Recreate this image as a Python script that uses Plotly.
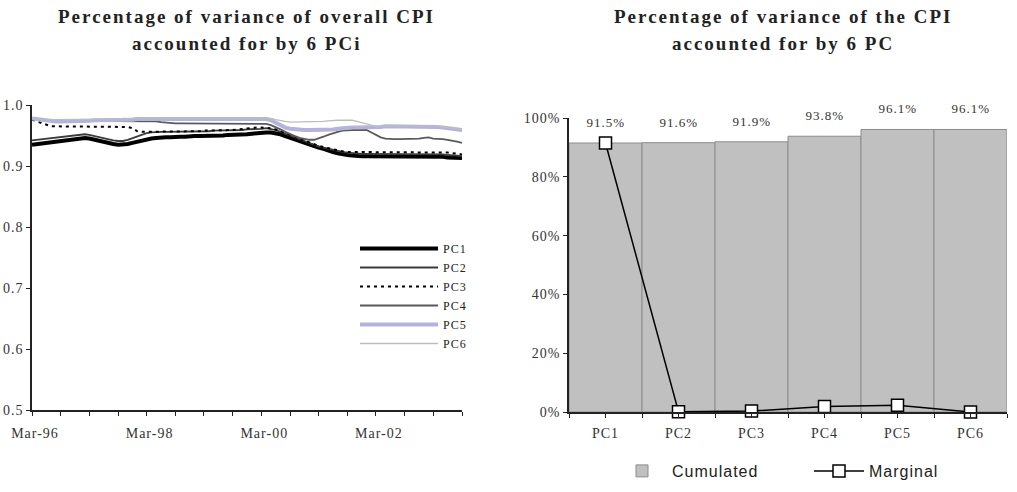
import pandas as pd
import plotly.graph_objects as go

# ---------------- data ----------------
months = pd.date_range("1996-03-01", periods=91, freq="MS")

pc1 = [0.935, 0.936, 0.937, 0.938, 0.940, 0.941, 0.942, 0.943, 0.944, 0.945, 0.946, 0.946,
       0.945, 0.943, 0.941, 0.939, 0.937, 0.936, 0.935, 0.935, 0.936, 0.938, 0.940, 0.942,
       0.944, 0.945, 0.946, 0.947, 0.947, 0.947, 0.948, 0.948, 0.948, 0.949, 0.949, 0.949,
       0.949, 0.950, 0.950, 0.950, 0.950, 0.951, 0.951, 0.951, 0.952, 0.952, 0.953, 0.954,
       0.954, 0.955, 0.955, 0.954, 0.952, 0.949, 0.946, 0.943, 0.940, 0.937, 0.935, 0.932,
       0.930, 0.928, 0.925, 0.923, 0.921, 0.919, 0.918, 0.917, 0.916, 0.916, 0.916, 0.916,
       0.916, 0.916, 0.916, 0.916, 0.916, 0.916, 0.916, 0.916, 0.916, 0.916, 0.916, 0.915,
       0.915, 0.915, 0.915, 0.914, 0.914, 0.913, 0.913]

pc2 = [0.942, 0.943, 0.944, 0.945, 0.946, 0.947, 0.948, 0.949, 0.950, 0.951, 0.952, 0.952,
       0.951, 0.949, 0.947, 0.945, 0.943, 0.942, 0.941, 0.941, 0.943, 0.946, 0.949, 0.952,
       0.954, 0.955, 0.956, 0.956, 0.956, 0.956, 0.957, 0.957, 0.957, 0.957, 0.957, 0.957,
       0.957, 0.957, 0.958, 0.958, 0.958, 0.958, 0.958, 0.959, 0.959, 0.960, 0.960, 0.961,
       0.961, 0.962, 0.961, 0.959, 0.956, 0.953, 0.950, 0.946, 0.943, 0.940, 0.937, 0.934,
       0.932, 0.930, 0.928, 0.926, 0.924, 0.923, 0.922, 0.921, 0.921, 0.920, 0.920, 0.920,
       0.920, 0.920, 0.920, 0.920, 0.920, 0.920, 0.920, 0.920, 0.920, 0.920, 0.920, 0.919,
       0.919, 0.919, 0.919, 0.918, 0.918, 0.917, 0.916]

pc3 = [0.976, 0.973, 0.970, 0.967, 0.965, 0.965, 0.965, 0.964, 0.965, 0.965, 0.965, 0.964,
       0.965, 0.965, 0.964, 0.965, 0.965, 0.965, 0.964, 0.965, 0.964, 0.962, 0.957, 0.956,
       0.956, 0.957, 0.957, 0.957, 0.957, 0.957, 0.957, 0.957, 0.957, 0.957, 0.957, 0.957,
       0.958, 0.958, 0.958, 0.958, 0.959, 0.959, 0.959, 0.960, 0.961, 0.962, 0.962, 0.963,
       0.963, 0.963, 0.962, 0.960, 0.957, 0.954, 0.950, 0.947, 0.944, 0.941, 0.938, 0.935,
       0.933, 0.931, 0.929, 0.927, 0.925, 0.924, 0.923, 0.923, 0.923, 0.923, 0.923, 0.923,
       0.923, 0.923, 0.923, 0.923, 0.923, 0.923, 0.923, 0.923, 0.923, 0.923, 0.923, 0.923,
       0.922, 0.922, 0.922, 0.922, 0.921, 0.920, 0.919]

pc4 = [0.977, 0.976, 0.975, 0.974, 0.974, 0.974, 0.974, 0.974, 0.974, 0.974, 0.974, 0.974,
       0.974, 0.974, 0.974, 0.974, 0.974, 0.974, 0.974, 0.974, 0.974, 0.974, 0.974, 0.974,
       0.974, 0.974, 0.973, 0.972, 0.971, 0.971, 0.970, 0.970, 0.970, 0.970, 0.970, 0.970,
       0.970, 0.970, 0.970, 0.970, 0.970, 0.970, 0.970, 0.970, 0.970, 0.970, 0.970, 0.970,
       0.970, 0.969, 0.967, 0.964, 0.960, 0.956, 0.952, 0.949, 0.946, 0.944, 0.943, 0.943,
       0.945, 0.948, 0.951, 0.954, 0.956, 0.958, 0.959, 0.959, 0.959, 0.959, 0.959, 0.955,
       0.951, 0.947, 0.945, 0.944, 0.944, 0.944, 0.944, 0.944, 0.944, 0.945, 0.946, 0.947,
       0.945, 0.945, 0.944, 0.943, 0.942, 0.940, 0.938]

pc5 = [0.978, 0.977, 0.975, 0.974, 0.973, 0.973, 0.973, 0.973, 0.973, 0.973, 0.974, 0.974,
       0.974, 0.975, 0.975, 0.975, 0.975, 0.975, 0.975, 0.975, 0.976, 0.976, 0.977, 0.977,
       0.977, 0.977, 0.977, 0.977, 0.977, 0.977, 0.977, 0.977, 0.977, 0.977, 0.977, 0.977,
       0.977, 0.977, 0.977, 0.977, 0.977, 0.977, 0.977, 0.977, 0.977, 0.977, 0.977, 0.977,
       0.977, 0.977, 0.975, 0.971, 0.967, 0.963, 0.961, 0.960, 0.959, 0.959, 0.959, 0.959,
       0.959, 0.959, 0.959, 0.960, 0.961, 0.962, 0.962, 0.963, 0.963, 0.963, 0.963, 0.963,
       0.964, 0.964, 0.965, 0.965, 0.965, 0.965, 0.965, 0.965, 0.965, 0.965, 0.965, 0.964,
       0.964, 0.964, 0.963, 0.962, 0.961, 0.960, 0.959]

pc6 = [0.978, 0.978, 0.977, 0.976, 0.976, 0.976, 0.976, 0.976, 0.976, 0.976, 0.976, 0.977,
       0.977, 0.977, 0.977, 0.977, 0.977, 0.977, 0.977, 0.978, 0.978, 0.979, 0.979, 0.979,
       0.979, 0.979, 0.979, 0.979, 0.979, 0.979, 0.979, 0.979, 0.979, 0.979, 0.979, 0.979,
       0.979, 0.979, 0.979, 0.979, 0.979, 0.979, 0.979, 0.979, 0.979, 0.979, 0.979, 0.979,
       0.979, 0.979, 0.978, 0.976, 0.974, 0.973, 0.972, 0.972, 0.972, 0.972, 0.972, 0.972,
       0.972, 0.973, 0.974, 0.975, 0.975, 0.975, 0.975, 0.975, 0.973, 0.971, 0.969, 0.967,
       0.965, 0.965, 0.966, 0.966, 0.966, 0.966, 0.966, 0.966, 0.966, 0.966, 0.966, 0.965,
       0.965, 0.965, 0.964, 0.963, 0.962, 0.961, 0.960]

pc_names = ["PC1", "PC2", "PC3", "PC4", "PC5", "PC6"]
cumulated = [91.5, 91.6, 91.9, 93.8, 96.1, 96.1]
marginal = [91.5, 0.1, 0.3, 1.9, 2.3, 0.0]

left_tickvals = pd.date_range("1996-03-01", "2003-09-01", freq="6MS")
left_ticktext = ["Mar-96", "", "", "", "Mar-98", "", "", "", "Mar-00", "", "", "",
                 "Mar-02", "", "", ""]

# ---------------- figure ----------------
W, H = 1017, 492
SERIF = "Liberation Serif"
SANS = "Liberation Sans"

fig = go.Figure()

styles = {
    "PC1": dict(color="#000000", width=4),
    "PC2": dict(color="#3a3a3a", width=1.8),
    "PC3": dict(color="#000000", width=2, dash="3px,4px"),
    "PC4": dict(color="#5a5a5a", width=1.8),
    "PC5": dict(color="#b3b3dd", width=4),
    "PC6": dict(color="#bdbdbd", width=1.3),
}
for name, vals in zip(pc_names, [pc1, pc2, pc3, pc4, pc5, pc6]):
    fig.add_trace(go.Scatter(x=months, y=vals, mode="lines", name=name,
                             line=styles[name], xaxis="x", yaxis="y",
                             legend="legend"))

# right chart
cat_idx = list(range(len(pc_names)))
fig.add_trace(go.Bar(x=cat_idx, y=cumulated, name="Cumulated", width=1.0,
                     marker=dict(color="#c0c0c0", line=dict(color="#8c8c8c", width=1)),
                     xaxis="x2", yaxis="y2", legend="legend2"))
fig.add_trace(go.Scatter(x=cat_idx, y=marginal, name="Marginal", mode="lines+markers",
                         line=dict(color="#000000", width=1.5),
                         marker=dict(symbol="square", size=12, color="#ffffff",
                                     line=dict(color="#000000", width=1.5)),
                         cliponaxis=False,
                         xaxis="x2", yaxis="y2", legend="legend2"))

annotations = []
for i, v in zip(cat_idx, cumulated):
    annotations.append(dict(x=i, y=v, xref="x2", yref="y2", text=f"{v:.1f}%",
                            showarrow=False, yanchor="bottom", yshift=11,
                            font=dict(family=SERIF, size=13, color="#333333")))

title_font = dict(family=SERIF, size=19, color="#222222")
for cx, l1, l2 in [(246, "Percentage of variance of overall CPI", "accounted for by 6 PCi"),
                   (783, "Percentage of variance of the CPI", "accounted for by 6 PC")]:
    annotations.append(dict(x=cx / W, y=1 - 17 / H, xref="paper", yref="paper",
                            text=f"<b>{l1}</b>", showarrow=False, font=title_font,
                            xanchor="center", yanchor="middle"))
    annotations.append(dict(x=cx / W, y=1 - 43 / H, xref="paper", yref="paper",
                            text=f"<b>{l2}</b>", showarrow=False, font=title_font,
                            xanchor="center", yanchor="middle"))

tick_font = dict(family=SERIF, size=14, color="#333333")

fig.update_layout(
    width=W, height=H, autosize=False,
    margin=dict(l=0, r=0, t=0, b=0, autoexpand=False),
    paper_bgcolor="white", plot_bgcolor="rgba(0,0,0,0)",
    showlegend=True,
    annotations=annotations,
    xaxis=dict(domain=[32 / W, 462 / W], type="date",
               range=["1996-03-01", "2003-09-01"],
               tickvals=list(left_tickvals), ticktext=left_ticktext,
               ticks="outside", ticklen=4, tickcolor="#222", tickwidth=1,
               ticklabelstandoff=5, ticklabelshift=3,
               showline=True, linecolor="#222", linewidth=1.5,
               showgrid=False, zeroline=False, tickfont=tick_font,
               anchor="y", fixedrange=True, automargin=False),
    yaxis=dict(domain=[1 - 410 / H, 1 - 105 / H], range=[0.5, 1.0], dtick=0.1,
               tickformat=".1f", ticks="outside", ticklen=4, tickcolor="#222",
               showline=True, linecolor="#222", linewidth=1.5,
               showgrid=False, zeroline=False, tickfont=tick_font,
               anchor="x", fixedrange=True, automargin=False),
    xaxis2=dict(domain=[569 / W, 1007 / W], range=[-0.5, 5.5],
                tickvals=cat_idx, ticktext=pc_names,
                ticks="outside", ticklen=4, tickcolor="#222",
                ticklabelstandoff=3,
                minor=dict(dtick=0.5, tick0=-0.5, ticks="outside", ticklen=4,
                           tickcolor="#222", showgrid=False),
                showline=True, linecolor="#222", linewidth=1.5,
                showgrid=False, zeroline=False, tickfont=tick_font,
                anchor="y2", fixedrange=True, automargin=False),
    yaxis2=dict(domain=[1 - 412 / H, 1 - 118 / H], range=[0, 100], dtick=20,
                ticksuffix="%", ticks="outside", ticklen=4, tickcolor="#222",
                showline=True, linecolor="#222", linewidth=1.5,
                showgrid=False, zeroline=False, tickfont=tick_font,
                anchor="x2", fixedrange=True, automargin=False),
    legend=dict(x=355 / W, y=1 - 234 / H, xanchor="left", yanchor="top",
                orientation="v", bgcolor="rgba(0,0,0,0)",
                font=dict(family=SERIF, size=12, color="#222222"),
                tracegroupgap=0, itemwidth=78),
    legend2=dict(x=612 / W, y=1 - 471 / H, xanchor="left", yanchor="middle",
                 orientation="h", bgcolor="rgba(0,0,0,0)",
                 font=dict(family=SANS, size=16, color="#222222"),
                 entrywidth=132, itemwidth=50),
)

post = """
var gd = document.getElementById('{plot_id}');
function applySpacing() {
  gd.querySelectorAll('text').forEach(function (t) {
    var fs = parseFloat(t.style.fontSize || '0');
    if (fs >= 18) { t.style.letterSpacing = '2px'; }
    else if (fs > 0) { t.style.letterSpacing = '1px'; }
  });
}
applySpacing();
gd.on('plotly_afterplot', applySpacing);
"""

fig.write_html("out.html", post_script=post)
